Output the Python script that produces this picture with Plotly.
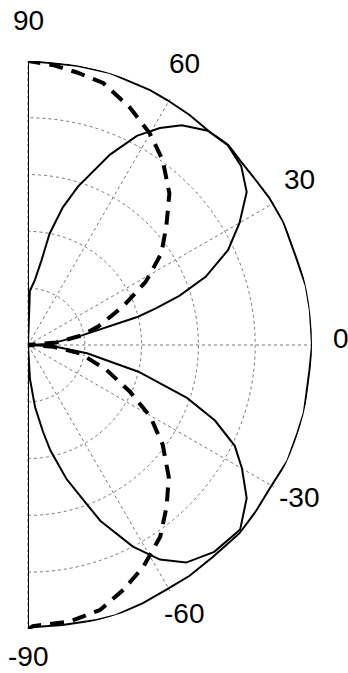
import math
import plotly.graph_objects as go

# Angular tick labels
tick_vals = [-90, -60, -30, 0, 30, 60, 90]
tick_text = ["-90", "-60", "-30", "0", "30", "60", "90"]
ring_vals = [0.2, 0.4, 0.6, 0.8, 1.0]

# Outer (near-omnidirectional) solid pattern, closed to the origin at both ends
theta_outer = [-90, -90, -83, -76, -72, -66, -60.4, -55, -49, -41.6, -36, -30.4, -24, -18,
               -13.7, -5, 0, 7, 12, 18, 25.8, 31.5, 36, 41, 45, 49.5, 55, 60.4, 64.4,
               73.2, 80, 87.6, 90, 90]
r_outer = [0.0, 0.995, 0.993, 0.998, 1.0, 0.995, 0.99, 0.992, 0.99, 0.997, 0.993, 0.99,
           1.0, 0.998, 1.0, 0.995, 1.0, 1.0, 1.0, 0.993, 0.998, 0.995, 0.99, 0.99, 0.997,
           0.986, 0.99, 0.992, 0.995, 1.0, 0.998, 0.997, 1.0, 0.0]

# Two-lobe solid pattern
theta_lobes = [-90, -86.7, -83.5, -80.2, -78, -74, -70, -67.6, -62.5, -58.4, -54, -48, -41,
               -35, -30, -26, -22, -18.4, -13.6, -8, -3, 0, 3, 6, 10, 14.4, 16, 18, 21,
               25.4, 30, 35, 40, 45, 50, 55, 58.7, 62.5, 66.7, 72.5, 75.8, 79, 81, 84, 88, 90]
r_lobes = [0.0, 0.12, 0.22, 0.31, 0.38, 0.49, 0.59, 0.67, 0.80, 0.887, 0.947, 0.98, 0.99,
           0.94, 0.87, 0.81, 0.71, 0.59, 0.40, 0.21, 0.09, 0.0, 0.07, 0.105, 0.19, 0.40,
           0.47, 0.56, 0.67, 0.78, 0.86, 0.94, 0.98, 0.995, 0.985, 0.945, 0.894, 0.83,
           0.73, 0.585, 0.50, 0.40, 0.30, 0.23, 0.19, 0.0]

# Dashed pattern
theta_dash = [-90, -89, -81.4, -74.8, -68.7, -62.5, -55.4, -49.4, -43.2, -36.5, -30.4, -24.6,
              -17.6, -9.1, -4, 0, 5, 10, 14.7, 22, 28.2, 34.5, 40.9, 47, 53.9, 60.1, 66.8,
              74, 79.8, 85, 90]
r_dash = [1.0, 0.99, 0.985, 0.967, 0.925, 0.88, 0.82, 0.75, 0.68, 0.59, 0.50, 0.395, 0.29,
          0.185, 0.09, 0.0, 0.1, 0.19, 0.255, 0.36, 0.47, 0.57, 0.645, 0.73, 0.805, 0.86,
          0.91, 0.96, 0.975, 0.99, 1.0]

W, H = 348, 673
ML, MR, MT, MB = 28, 36, 61, 44
plot_w = W - ML - MR          # = radius in px (half-disc width)
plot_h = H - MT - MB          # = 2 * radius

fig = go.Figure()
fig.add_trace(go.Scatterpolar(r=r_outer, theta=theta_outer, mode="lines",
                              line=dict(color="black", width=2), showlegend=False))
fig.add_trace(go.Scatterpolar(r=r_lobes, theta=theta_lobes, mode="lines",
                              line=dict(color="black", width=2), showlegend=False))
fig.add_trace(go.Scatterpolar(r=r_dash, theta=theta_dash, mode="lines",
                              line=dict(color="black", width=4, dash="14px,9px"),
                              showlegend=False))

# Angle labels placed just outside the rim, in paper coords
label_rx = 1.102         # horizontal label distance, radius units
label_ry = 1.12          # vertical label distance, radius units
label_lift = 6.5 / plot_h  # small upward shift of the text, paper units
annotations = []
for v, t in zip(tick_vals, tick_text):
    a = math.radians(v)
    px = label_rx * math.cos(a)
    py = 0.5 + label_ry * math.sin(a) * (plot_w / plot_h)
    annotations.append(dict(text=t, x=px, y=py + label_lift, xref="paper", yref="paper",
                            xanchor="center", yanchor="middle", showarrow=False,
                            font=dict(size=28, color="black",
                                      family="Liberation Sans, Arial, sans-serif")))

fig.update_layout(
    width=W, height=H,
    margin=dict(l=ML, r=MR, t=MT, b=MB),
    paper_bgcolor="white",
    font=dict(family="Liberation Sans, Arial, sans-serif", size=28, color="black"),
    annotations=annotations,
    polar=dict(
        bgcolor="white",
        sector=[-90, 90],
        domain=dict(x=[0, 1], y=[0, 1]),
        radialaxis=dict(range=[0, 1.0], tickvals=ring_vals, showticklabels=False,
                        ticks="", showline=False, showgrid=True, gridcolor="#777",
                        gridwidth=1, griddash="dot"),
        angularaxis=dict(direction="counterclockwise", rotation=0,
                         tickmode="array", tickvals=tick_vals, ticktext=tick_text,
                         ticks="", showticklabels=False,
                         showline=False, showgrid=True, gridcolor="#777",
                         gridwidth=1, griddash="dot"),
    ),
)

fig.write_html("out.html")
